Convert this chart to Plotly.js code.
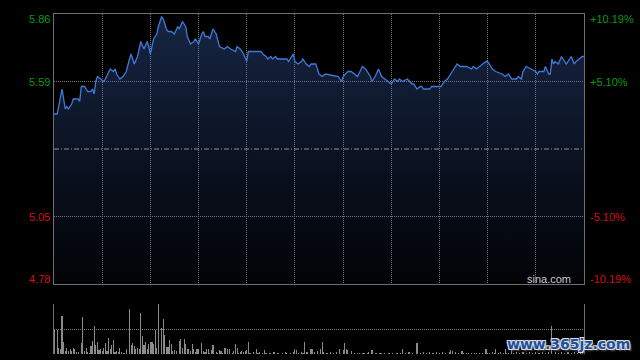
<!DOCTYPE html>
<html>
<head>
<meta charset="utf-8">
<script src="https://cdn.plot.ly/plotly-3.0.1.min.js"></script>
<style>
  html, body { margin: 0; padding: 0; background: #000; }
  #chart { width: 640px; height: 360px; }
</style>
</head>
<body>
<div id="chart"></div>
<script>
// ---- Data (minute index from 09:30 open, HK session = 330 trading minutes) ----
const prevClose = 5.32;

const priceMin = [0,2,5,7,8,9,11,12,15,16,
  17,19,21,23,24,25,26,27,29,31,
  32,35,37,38,39,41,43,45,47,48,
  50,52,54,56,58,59,60,62,64,65,
  67,68,70,71,73,75,77,78,80,82,
  83,85,87,88,90,92,93,94,96,97,
  99,101,103,106,108,110,113,114,116,118,
  120,121,129,130,132,133,135,136,138,139,
  145,146,149,150,152,154,155,157,159,160,
  163,165,167,169,177,179,180,183,185,187,
  189,192,194,197,198,200,202,204,206,208,
  210,212,214,215,217,220,223,224,226,228,
  229,230,234,235,241,243,245,247,249,251,
  253,255,257,260,261,263,265,267,269,270,
  271,273,275,279,281,283,285,286,288,289,
  291,292,294,297,300,301,302,305,306,308,
  309,310,311,312,314,316,319,322,324,325,
  327,329,330];

const prices = [5.46,5.46,5.56,5.48,5.49,5.48,5.50,5.52,5.52,5.51,
  5.57,5.57,5.55,5.55,5.56,5.54,5.59,5.61,5.60,5.59,
  5.60,5.64,5.63,5.64,5.62,5.60,5.61,5.63,5.68,5.70,
  5.66,5.69,5.75,5.72,5.75,5.73,5.70,5.76,5.78,5.81,
  5.85,5.84,5.80,5.79,5.79,5.78,5.81,5.80,5.83,5.81,
  5.77,5.74,5.75,5.76,5.74,5.78,5.79,5.77,5.77,5.76,
  5.80,5.78,5.73,5.72,5.73,5.72,5.71,5.73,5.72,5.70,
  5.67,5.71,5.71,5.70,5.69,5.68,5.69,5.68,5.69,5.68,
  5.68,5.67,5.70,5.67,5.66,5.67,5.68,5.66,5.65,5.66,
  5.66,5.62,5.61,5.62,5.61,5.59,5.61,5.63,5.63,5.62,
  5.61,5.65,5.64,5.61,5.59,5.61,5.64,5.61,5.60,5.59,
  5.58,5.60,5.59,5.60,5.59,5.60,5.58,5.58,5.56,5.57,
  5.57,5.56,5.56,5.57,5.57,5.59,5.60,5.62,5.64,5.66,
  5.65,5.65,5.65,5.64,5.65,5.64,5.65,5.66,5.67,5.67,
  5.66,5.64,5.63,5.62,5.61,5.62,5.60,5.60,5.60,5.61,
  5.60,5.63,5.65,5.64,5.63,5.62,5.63,5.63,5.65,5.62,
  5.62,5.68,5.66,5.67,5.66,5.69,5.66,5.69,5.66,5.67,
  5.68,5.69,5.69];

const volMin = [0,2,3,4,5,6,7,8,9,10,
  11,12,13,14,15,17,18,19,20,21,
  22,23,24,25,26,27,28,29,30,31,
  32,33,34,35,36,37,38,39,40,41,
  42,43,44,45,47,48,49,50,51,52,
  53,54,55,56,57,58,59,60,61,62,
  63,64,65,67,68,69,70,71,72,73,
  74,75,76,78,79,80,81,82,83,84,
  85,86,87,88,89,90,92,93,94,95,
  96,97,98,99,101,102,103,104,105,106,
  107,108,109,111,112,113,114,115,116,117,
  118,119,120,121,122,124,126,127,128,130,
  131,132,134,135,137,139,140,142,144,145,
  147,149,150,151,152,154,155,156,157,158,
  160,161,162,164,166,167,168,170,172,174,
  176,178,180,181,182,183,185,187,189,190,
  192,193,195,196,198,200,201,203,204,206,
  208,209,211,213,214,216,217,219,221,223,
  226,228,230,232,234,236,238,240,242,244,
  246,247,248,250,252,254,255,257,258,260,
  262,263,265,267,269,270,271,273,274,275,
  277,278,280,281,282,283,285,286,288,290,
  292,294,296,298,300,302,304,306,308,310,
  312,314,316,318,320,322,324,326,328,329];

const volumes = [50,49,12,10,77,23,5,12,5,10,
  5,12,9,3,3,21,75,5,12,3,
  2,15,27,57,17,25,7,9,5,12,
  21,5,33,10,17,29,3,5,3,12,
  3,2,2,9,90,17,21,15,10,12,
  9,83,37,17,25,10,19,25,23,19,
  49,12,100,52,70,39,14,14,29,19,
  5,7,5,27,30,12,30,19,9,9,
  5,19,10,3,9,9,21,5,3,9,
  9,2,7,17,3,2,7,5,2,12,
  12,10,9,2,5,19,12,2,3,5,
  3,5,7,23,2,3,10,2,3,2,
  7,2,2,2,3,2,2,2,3,2,
  2,3,9,7,2,3,2,23,3,3,
  10,9,3,5,10,24,3,2,3,2,
  3,10,7,21,10,7,5,2,2,2,
  2,2,2,3,7,2,2,2,2,2,
  2,2,2,2,2,2,10,2,3,2,
  21,2,3,2,3,2,3,2,3,2,
  3,7,5,3,2,5,2,2,2,2,
  2,2,2,2,10,2,2,3,2,9,
  2,3,2,10,2,2,11,2,3,2,
  3,2,3,2,3,2,3,2,3,57,
  3,2,3,2,3,2,3,2,3,5];

const priceTicks = [5.86, 5.59, 5.05, 4.78];
const pctTicks = ['+10.19%', '+5.10%', '-5.10%', '-10.19%'];

// ---- Styling ----
const GRID = '#767676';
const BORDER = '#6e6e6e';
const UP = '#0a9a0a';
const DOWN = '#d41010';
const FONT = 'Liberation Sans, Arial, sans-serif';

const traces = [
  {
    type: 'scatter', mode: 'lines',
    x: priceMin, y: prices,
    xaxis: 'x', yaxis: 'y',
    line: { color: '#3f7ad8', width: 1.3 },
    fill: 'tozeroy',
    fillgradient: {
      type: 'vertical',
      start: priceTicks[priceTicks.length - 1],
      stop: priceTicks[0],
      colorscale: [[0, 'rgba(60,100,190,0.03)'], [1, 'rgba(70,115,205,0.33)']]
    },
    hoverinfo: 'skip'
  },
  {
    type: 'bar',
    x: volMin, y: volumes,
    xaxis: 'x2', yaxis: 'y2',
    width: 0.7,
    marker: { color: '#8a8a8a', line: { width: 0 } },
    hoverinfo: 'skip'
  }
];

const annotations = [];
priceTicks.forEach((v, i) => {
  const col = v >= prevClose ? UP : DOWN;
  const ya = i === 0 ? 'top' : (i === priceTicks.length - 1 ? 'bottom' : 'middle');
  const ys = i === 0 ? 3 : (i === priceTicks.length - 1 ? -3 : 0);
  annotations.push({
    xref: 'paper', yref: 'y', x: 0, y: v, text: v.toFixed(2),
    xanchor: 'right', yanchor: ya, xshift: -2, yshift: ys, showarrow: false,
    font: { family: FONT, size: 11, color: col }
  });
  annotations.push({
    xref: 'paper', yref: 'y', x: 1, y: v, text: pctTicks[i],
    xanchor: 'left', yanchor: ya, xshift: 4, yshift: ys, showarrow: false,
    font: { family: FONT, size: 11, color: col }
  });
});
annotations.push({
  xref: 'paper', yref: 'paper', x: 0.979, y: 0.221, text: 'sina.com',
  xanchor: 'right', yanchor: 'middle', showarrow: false,
  font: { family: FONT, size: 11, color: '#c8c8c8' }
});
annotations.push({
  xref: 'paper', yref: 'paper', x: 1.09, y: 0.028, text: 'www.365jz.com',
  xanchor: 'right', yanchor: 'middle', showarrow: false,
  font: { family: 'DejaVu Sans, sans-serif', size: 14, color: '#1d4f9c', weight: 'bold',
          shadow: '1px 1px 0 #ddd, -1px -1px 0 #ddd, 1px -1px 0 #ddd, -1px 1px 0 #ddd, 2px 2px 2px #555' }
});

const layout = {
  width: 640, height: 360,
  margin: { l: 54, r: 56, t: 14, b: 6 },
  paper_bgcolor: '#000', plot_bgcolor: '#000',
  showlegend: false,
  bargap: 0,
  xaxis: {
    domain: [0, 1], anchor: 'y', range: [0, 330],
    tick0: 0, dtick: 30, showgrid: true, gridcolor: GRID, griddash: '1px,1px', gridwidth: 1,
    showticklabels: false, ticks: '', zeroline: false,
    showline: true, mirror: true, linecolor: BORDER, linewidth: 1
  },
  yaxis: {
    domain: [0.2059, 1], anchor: 'x', range: [priceTicks[3], priceTicks[0]],
    tickvals: [priceTicks[1], priceTicks[2]],
    showgrid: true, gridcolor: GRID, griddash: '1px,1px', gridwidth: 1,
    showticklabels: false, ticks: '', zeroline: false,
    showline: true, mirror: true, linecolor: BORDER, linewidth: 1
  },
  xaxis2: {
    domain: [0, 1], anchor: 'y2', range: [0, 330],
    showgrid: false, showticklabels: false, ticks: '', zeroline: false, showline: false
  },
  yaxis2: {
    domain: [0, 0.147], anchor: 'x2', range: [0, 100],
    tickvals: [0, 50, 100],
    showgrid: true, gridcolor: GRID, griddash: '1px,1px', gridwidth: 1,
    showticklabels: false, ticks: '', zeroline: false,
    showline: true, mirror: true, linecolor: BORDER, linewidth: 1
  },
  shapes: [{
    type: 'line', xref: 'paper', yref: 'y', x0: 0, x1: 1, y0: prevClose, y1: prevClose,
    line: { color: '#8f959c', width: 1, dash: '5px,2px,1px,2px' }, layer: 'above'
  }],
  annotations: annotations
};

Plotly.newPlot('chart', traces, layout, { displayModeBar: false, staticPlot: true });
</script>
</body>
</html>
